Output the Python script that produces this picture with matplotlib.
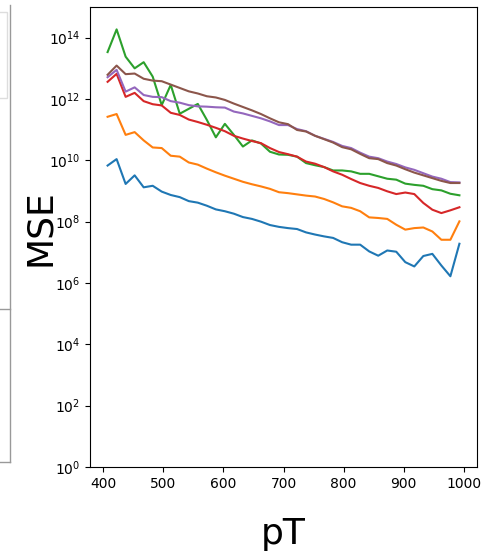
import numpy as np
import matplotlib
matplotlib.use("Agg")
import matplotlib.pyplot as plt
from matplotlib.lines import Line2D
from matplotlib.patches import Rectangle

# pT bin centres (15 GeV bins from 400 to 1000)
pt = np.arange(407.5, 1000, 15.0)

# log10(MSE) per curve
blue_log = [9.83, 10.04, 9.23, 9.51, 9.12, 9.17, 8.98, 8.87, 8.80, 8.67,
            8.62, 8.52, 8.40, 8.34, 8.26, 8.15, 8.09, 8.00, 7.89, 7.83,
            7.79, 7.76, 7.65, 7.58, 7.52, 7.47, 7.33, 7.25, 7.25, 7.03,
            6.89, 7.06, 7.02, 6.68, 6.54, 6.88, 6.95, 6.57, 6.22, 7.28]
orange_log = [11.42, 11.51, 10.83, 10.92, 10.65, 10.42, 10.40, 10.15, 10.12, 9.93,
              9.86, 9.73, 9.61, 9.50, 9.40, 9.30, 9.22, 9.15, 9.07, 8.96,
              8.93, 8.89, 8.85, 8.82, 8.74, 8.63, 8.50, 8.45, 8.34, 8.14,
              8.12, 8.09, 7.90, 7.74, 7.79, 7.81, 7.68, 7.41, 7.41, 8.01]
green_log = [13.53, 14.27, 13.38, 13.00, 13.20, 12.73, 11.80, 12.46, 11.52, 11.68,
             11.84, 11.32, 10.75, 11.19, 10.83, 10.45, 10.65, 10.55, 10.28, 10.19,
             10.18, 10.12, 9.91, 9.84, 9.78, 9.67, 9.67, 9.64, 9.56, 9.56,
             9.48, 9.40, 9.37, 9.24, 9.20, 9.17, 9.06, 9.02, 8.91, 8.86]
red_log = [12.56, 12.82, 12.07, 12.20, 11.93, 11.83, 11.79, 11.55, 11.48, 11.33,
           11.25, 11.16, 11.06, 10.95, 10.80, 10.71, 10.63, 10.56, 10.40, 10.27,
           10.20, 10.12, 9.96, 9.89, 9.78, 9.64, 9.53, 9.39, 9.26, 9.17,
           9.10, 8.99, 8.90, 8.95, 8.90, 8.61, 8.39, 8.28, 8.37, 8.47]
purple_log = [12.71, 12.95, 12.24, 12.38, 12.13, 12.07, 12.06, 11.93, 11.88, 11.80,
              11.76, 11.75, 11.73, 11.72, 11.59, 11.53, 11.45, 11.37, 11.27, 11.15,
              11.15, 11.02, 10.95, 10.80, 10.70, 10.60, 10.47, 10.40, 10.25, 10.12,
              10.07, 9.96, 9.88, 9.77, 9.69, 9.58, 9.47, 9.40, 9.29, 9.28]
brown_log = [12.79, 13.09, 12.81, 12.83, 12.66, 12.60, 12.58, 12.47, 12.36, 12.25,
             12.18, 12.09, 12.05, 11.97, 11.85, 11.74, 11.63, 11.51, 11.37, 11.24,
             11.18, 10.99, 10.94, 10.80, 10.69, 10.58, 10.43, 10.36, 10.21, 10.07,
             10.04, 9.91, 9.83, 9.71, 9.60, 9.51, 9.42, 9.33, 9.26, 9.26]

curves = [blue_log, orange_log, green_log, red_log, purple_log, brown_log]

W, H = 492, 554
fig = plt.figure(figsize=(W / 100, H / 100), dpi=100)
ax = fig.add_axes([90 / W, 1 - 467 / H, 387 / W, 460 / H])

for c in curves:
    ax.plot(pt, 10.0 ** np.array(c))

ax.set_yscale("log")
ax.set_ylim(1, 1e15)
ax.set_xticks([400, 500, 600, 700, 800, 900, 1000])
ax.set_ylabel("MSE", fontsize=26)
ax.yaxis.set_label_coords(-0.085, 0.52)
ax.set_xlabel("pT", fontsize=26, labelpad=19)


# edge of the neighbouring panel, cut off at the left border
def px_line(x0, y0, x1, y1, color):
    fig.add_artist(Line2D([x0 / W, x1 / W], [1 - y0 / H, 1 - y1 / H],
                          transform=fig.transFigure, color=color, lw=1))


px_line(9.5, 5, 9.5, 462, "#999999")
px_line(0, 309, 9.5, 309, "#999999")
px_line(0, 462, 9.5, 462, "#999999")
fig.add_artist(Rectangle((-5 / W, 1 - 98 / H), 12 / W, 86 / H,
                         transform=fig.transFigure, fill=False,
                         edgecolor="#dddddd", lw=1))

fig.savefig("out.png", dpi=100)
